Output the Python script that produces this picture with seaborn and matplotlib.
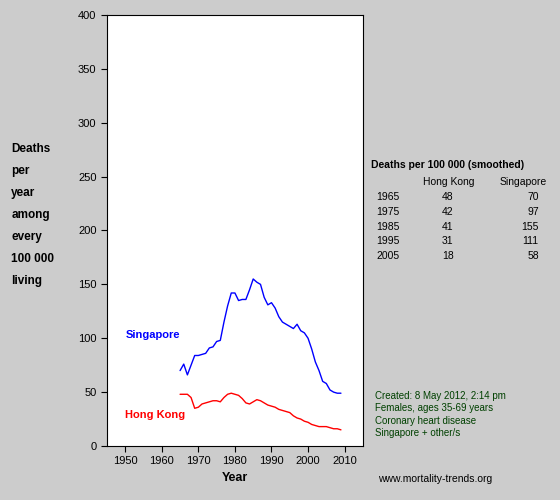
import matplotlib
matplotlib.use("Agg")
import matplotlib.pyplot as plt
import seaborn as sns
import pandas as pd

years = list(range(1965, 2010))
singapore = [70,76,66,75,84,84,85,86,91,92,97,98,115,130,142,142,135,136,136,145,
             155,152,150,138,131,133,128,120,115,113,111,109,113,107,105,100,90,78,70,60,
             58,52,50,49,49]
hong_kong = [48,48,48,45,35,36,39,40,41,42,42,41,45,48,49,48,47,44,40,39,
             41,43,42,40,38,37,36,34,33,32,31,28,26,25,23,22,20,19,18,18,
             18,17,16,16,15]
table_years = ["1965","1975","1985","1995","2005"]
table_hk = [48,42,41,31,18]
table_sg = [70,97,155,111,58]

df = pd.DataFrame({"Year": years*2, "Rate": singapore+hong_kong,
                   "Country": ["Singapore"]*len(years)+["Hong Kong"]*len(years)})

sns.set_style("ticks")
plt.rcParams['font.family'] = ['Liberation Sans', 'DejaVu Sans']
plt.rcParams['text.color'] = 'black'
plt.rcParams['xtick.color'] = 'black'
plt.rcParams['ytick.color'] = 'black'
plt.rcParams['axes.labelcolor'] = 'black'
fig = plt.figure(figsize=(5.6,5.0), dpi=100, facecolor="#cccccc")
ax = fig.add_axes([0.191, 0.108, 0.457, 0.862])
ax.set_facecolor("white")
sns.lineplot(data=df, x="Year", y="Rate", hue="Country",
             palette={"Singapore":"#0000ff","Hong Kong":"#ff0000"}, legend=False, ax=ax, lw=1)
ax.set_xlim(1945, 2015); ax.set_ylim(0, 400)
ax.set_xticks(range(1950, 2011, 10)); ax.set_yticks(range(0, 401, 50))
ax.tick_params(labelsize=8, length=4)
ax.set_xlabel("Year", fontsize=9, fontweight="bold"); ax.set_ylabel("")
for s in ax.spines.values(): s.set_color("black")
ax.text(1950, 100, "Singapore", color="#0000ff", fontsize=8, fontweight="bold")
ax.text(1950, 26, "Hong Kong", color="#ff0000", fontsize=8, fontweight="bold")
fig.text(0.02, 0.57, "Deaths\nper\nyear\namong\nevery\n100 000\nliving", fontsize=8.5,
         fontweight="bold", va="center", linespacing=2.1)
fig.text(0.663, 0.665, "Deaths per 100 000 (smoothed)", fontsize=7.5, fontweight="bold")
fig.text(0.755, 0.63, "Hong Kong", fontsize=7.5)
fig.text(0.892, 0.63, "Singapore", fontsize=7.5)
for i, (y, h, s) in enumerate(zip(table_years, table_hk, table_sg)):
    yy = 0.6 - i*0.0295
    fig.text(0.672, yy, y, fontsize=7.5)
    fig.text(0.81, yy, str(h), fontsize=7.5, ha="right")
    fig.text(0.962, yy, str(s), fontsize=7.5, ha="right")
fig.text(0.67, 0.128, "Created: 8 May 2012, 2:14 pm\nFemales, ages 35-69 years\nCoronary heart disease\nSingapore + other/s",
         fontsize=7, color="#004000", linespacing=1.3)
fig.text(0.675, 0.035, "www.mortality-trends.org", fontsize=7.5)
fig.savefig("out.png", dpi=100, facecolor=fig.get_facecolor())
